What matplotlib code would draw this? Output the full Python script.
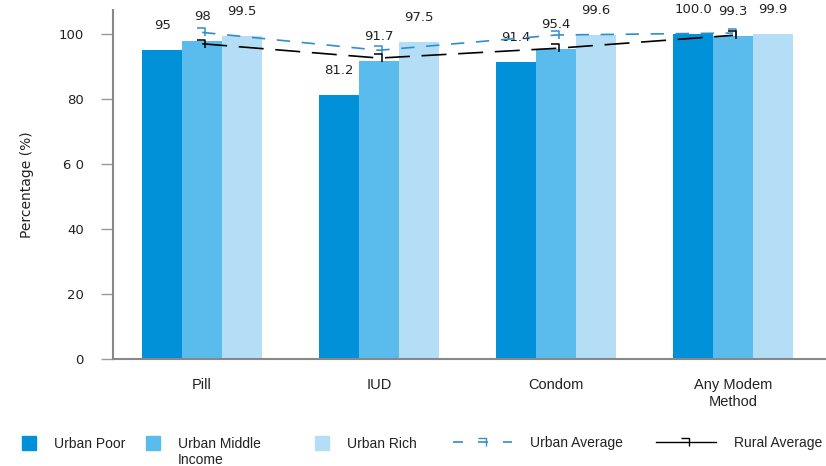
import matplotlib
matplotlib.use('Agg')
import matplotlib.pyplot as plt
import numpy as np
from matplotlib.path import Path
from matplotlib.patches import Patch
from matplotlib.lines import Line2D

methods = ['Pill', 'IUD', 'Condom', 'Any Modem\nMethod']
urban_poor = [95.0, 81.2, 91.4, 100.0]
urban_middle = [98.0, 91.7, 95.4, 99.3]
urban_rich = [99.5, 97.5, 99.6, 99.9]
urban_avg = [100.5, 95.0, 99.7, 100.3]
rural_avg = [97.0, 92.6, 95.6, 99.6]
poor_labels = ['95', '81.2', '91.4', '100.0']
middle_labels = ['98', '91.7', '95.4', '99.3']
rich_labels = ['99.5', '97.5', '99.6', '99.9']

C_POOR = '#0091D9'
C_MID = '#5ABCEC'
C_RICH = '#B4DEF6'
C_UAVG = '#2E8FCB'
NARROW = ['Liberation Sans', 'DejaVu Sans']
NUM = ['DejaVu Sans']

# small hook-shaped marker
hook = Path([(-0.7, 0.6), (0.5, 0.6), (0.5, -0.6)],
            [Path.MOVETO, Path.LINETO, Path.LINETO])

fig = plt.figure(figsize=(8.26, 4.66), dpi=100)
ax = fig.add_axes([0.137, 0.2296, 0.863, 0.749])

x = np.arange(len(methods))
w = 0.225
groups = [(urban_poor, poor_labels, C_POOR, -w),
          (urban_middle, middle_labels, C_MID, 0),
          (urban_rich, rich_labels, C_RICH, w)]
for vals, labs, col, off in groups:
    ax.bar(x + off, vals, w, color=col, edgecolor='none', zorder=2)
    for xi, v, t in zip(x + off, vals, labs):
        ax.text(xi, v + 7.5, t, ha='center', va='center', fontsize=9.5,
                color='#222222', family=NUM, clip_on=False)

ax.plot(x, urban_avg, color=C_UAVG, lw=1.2, dashes=(8, 7), marker=hook,
        markersize=7, markerfacecolor='none', markeredgewidth=1.1, zorder=3)
ax.plot(x, rural_avg, color='black', lw=1.2, dashes=(15, 7), marker=hook,
        markersize=7, markerfacecolor='none', markeredgewidth=1.1, zorder=3)

ax.set_xlim(-0.503, 3.525)
ax.set_ylim(0, 107.4)
ax.set_yticks([0, 20, 40, 60, 80, 100])
ax.set_yticklabels(['0', '20', '40', '6 0', '80', '100'], family=NUM, fontsize=9.5,
                   color='#222222')
ax.set_xticks(x)
ax.set_xticklabels(methods, family=NARROW, fontsize=10.5, color='#222222')
ax.tick_params(axis='x', length=0, pad=14)
ax.tick_params(axis='y', length=9, width=1, color='#999999', pad=12)
ax.set_ylabel('Percentage (%)', fontsize=10, color='#222222', labelpad=18)
for s in ['top', 'right']:
    ax.spines[s].set_visible(False)
for s in ['left', 'bottom']:
    ax.spines[s].set_color('#888888')
    ax.spines[s].set_linewidth(1.5)

# legend row, one entry per legend so the spacing follows the reference
entries = [
    (Patch(color=C_POOR), 'Urban Poor', 0.027, 1.0, 1.2),
    (Patch(color=C_MID), 'Urban Middle', 0.177, 1.0, 1.2),
    (Patch(color=C_RICH), 'Urban Rich', 0.381, 1.0, 1.2),
    (Line2D([], [], color=C_UAVG, lw=1.2, dashes=(6, 9), marker=hook, markersize=7,
            markerfacecolor='none'), 'Urban Average', 0.548, 4.3, 0.7),
    (Line2D([], [], color='black', lw=1.0, marker=hook, markersize=7,
            markerfacecolor='none'), 'Rural Average', 0.794, 4.3, 0.7),
]
legends = []
for h, lab, xpos, hl, hh in entries:
    lg = fig.legend([h], [lab], loc='center left', bbox_to_anchor=(xpos, 0.049),
                    frameon=False, handlelength=hl, handleheight=hh, handletextpad=1.3,
                    borderaxespad=0, borderpad=0,
                    prop={'family': NARROW, 'size': 10})
    for t in lg.get_texts():
        t.set_color('#222222')
    legends.append(lg)

# second line of the middle-income label, under the first one
fig.canvas.draw()
bb = legends[1].get_texts()[0].get_window_extent().transformed(fig.transFigure.inverted())
fig.text(bb.x0, bb.y0 - 0.006, 'Income', ha='left', va='top', family=NARROW,
         fontsize=10, color='#222222')

fig.savefig('out.png', dpi=100)
